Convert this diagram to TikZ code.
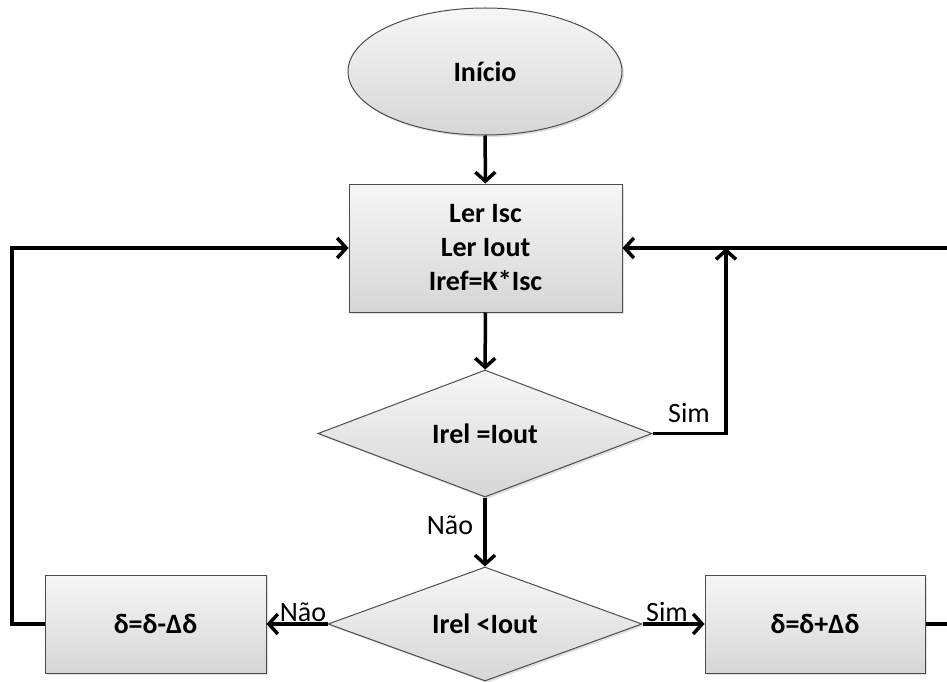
\documentclass[tikz,border=0pt]{standalone}
\usepackage{fontspec}
\setmainfont{Carlito}
\usetikzlibrary{shapes.geometric,arrows.meta,shadows}
\begin{document}
\begin{tikzpicture}[x=1pt,y=-1pt,
  blockbase/.style={draw=black!70, line width=1pt, top color=gray!7, bottom color=gray!32,
     drop shadow={shadow xshift=2pt, shadow yshift=-2pt, opacity=0.25},
     font=\fontsize{28}{34}\selectfont\bfseries, align=center, inner sep=0pt},
  boxnode/.style={blockbase, rectangle},
  ellnode/.style={blockbase, ellipse},
  decnode/.style={blockbase, diamond, aspect=2.6},
  conn/.style={line width=3.5pt, line join=miter},
  arr/.style={conn, -{Straight Barb[length=9pt, width=20pt]}},
  lbl/.style={font=\fontsize{28}{34}\selectfont, inner sep=0pt}
]
\useasboundingbox (0,0) rectangle (947,682);
\node[ellnode, minimum width=274pt, minimum height=127pt] (start) at (485,71.5) {Início};
\node[boxnode, minimum width=273pt, minimum height=128pt] (read) at (485.5,248) {Ler Isc\\Ler Iout\\Iref=K*Isc};
\node[decnode, minimum width=334pt, minimum height=127pt] (eq) at (485,433.5) {Irel =Iout};
\node[decnode, minimum width=314pt, minimum height=114pt] (lt) at (485,624) {Irel <Iout};
\node[boxnode, minimum width=221pt, minimum height=98pt] (dec) at (155.5,624) {δ=δ-Δδ};
\node[boxnode, minimum width=220pt, minimum height=98pt] (inc) at (815,624) {δ=δ+Δδ};

\coordinate (sim1) at (726,433.5);
\coordinate (sim2) at (726,248);
\coordinate (lc1) at (12,624);
\coordinate (lc2) at (12,248);
\coordinate (rc1) at (953,624);
\coordinate (rc2) at (953,248);

\draw[arr] (start) -- (read);
\draw[arr] (read) -- (eq);
\draw[arr] (eq) -- (lt);
\draw[arr] (eq.east) -- (sim1) -- (sim2);
\draw[arr] (lt.west) -- (dec.east);
\draw[arr] (lt.east) -- (inc.west);
\draw[arr] (dec.west) -- (lc1) -- (lc2) -- (read.west);
\draw[arr] (inc.east) -- (rc1) -- (rc2) -- (read.east);

\node[lbl] (l1) at (689,413) {Sim};
\node[lbl] (l2) at (450,525) {Não};
\node[lbl] (l3) at (303,612) {Não};
\node[lbl] (l4) at (667,612) {Sim};
\end{tikzpicture}
\end{document}
